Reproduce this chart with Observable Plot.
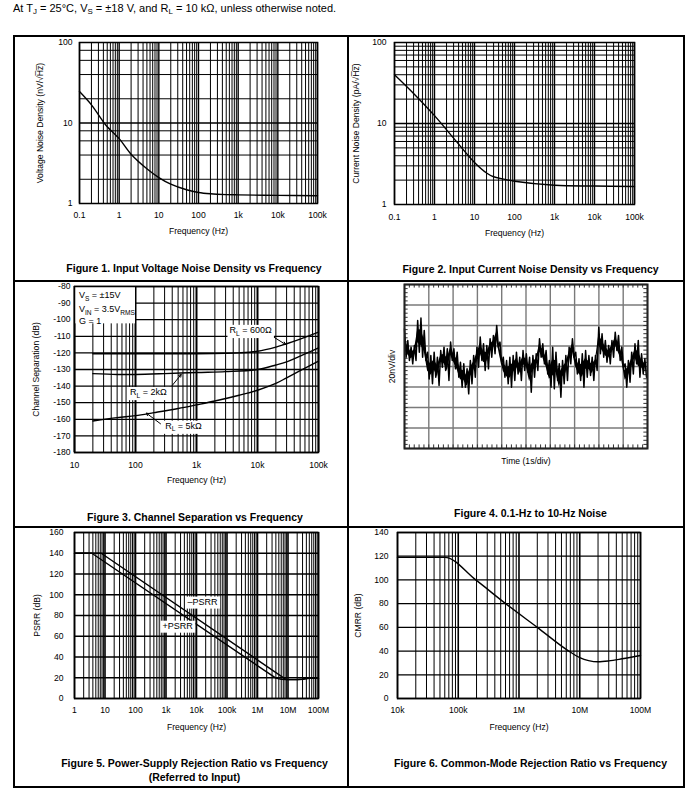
<!DOCTYPE html>
<html><head><meta charset="utf-8">
<script src="https://cdn.jsdelivr.net/npm/d3@7"></script>
<script src="https://cdn.jsdelivr.net/npm/@observablehq/plot@0.6"></script>
<style>
html,body{margin:0;padding:0;background:#fff;}
body{width:692px;height:794px;position:relative;overflow:hidden;font-family:"Liberation Sans",Arial,Helvetica,sans-serif;color:#000;}
.abs{position:absolute;}
.abs svg{display:block;overflow:visible;}
.hl{position:absolute;background:#000;height:1.5px;}
.vl{position:absolute;background:#000;width:1.5px;}
.title{position:absolute;font-weight:bold;font-size:10.5px;white-space:nowrap;transform:translate(-50%,-50%);text-align:center;line-height:14px;}
.header{position:absolute;left:13px;top:2px;font-size:11px;white-space:nowrap;}
.header sub{font-size:0.72em;vertical-align:-0.3em;line-height:0;}
</style></head><body>
<div class="header">At T<sub>J</sub> = 25°C, V<sub>S</sub> = ±18 V, and R<sub>L</sub> = 10 kΩ, unless otherwise noted.</div>

<div class="hl" style="left:13px;top:35px;width:672px"></div>
<div class="hl" style="left:13px;top:280px;width:672px"></div>
<div class="hl" style="left:13px;top:526px;width:672px"></div>
<div class="hl" style="left:13px;top:786px;width:672px"></div>
<div class="vl" style="left:13px;top:35px;height:753px"></div>
<div class="vl" style="left:347px;top:35px;height:753px"></div>
<div class="vl" style="left:683px;top:35px;height:753px"></div>

<div id="p1" class="abs" style="left:14px;top:36px"></div>
<div id="p2" class="abs" style="left:349px;top:36px"></div>
<div id="p3" class="abs" style="left:14px;top:281px"></div>
<div id="p4" class="abs" style="left:349px;top:281px"></div>
<div id="p5" class="abs" style="left:14px;top:527px"></div>
<div id="p6" class="abs" style="left:349px;top:527px"></div>

<div class="title" style="left:194px;top:268px">Figure 1. Input Voltage Noise Density vs Frequency</div>
<div class="title" style="left:530.5px;top:269px">Figure 2. Input Current Noise Density vs Frequency</div>
<div class="title" style="left:195px;top:516.5px">Figure 3. Channel Separation vs Frequency</div>
<div class="title" style="left:530.5px;top:513px">Figure 4. 0.1-Hz to 10-Hz Noise</div>
<div class="title" style="left:194.5px;top:770px">Figure 5. Power-Supply Rejection Ratio vs Frequency<br>(Referred to Input)</div>
<div class="title" style="left:530.5px;top:763px">Figure 6. Common-Mode Rejection Ratio vs Frequency</div>

<script>
// ---------- Figure 1: input voltage noise density ----------
const vnFreq = [0.1, 0.2, 0.4, 0.5, 1, 2, 5, 10, 20, 50, 100, 200, 500, 1000, 10000, 100000];
const vnDensity = [24.6, 16.8, 10.3, 9.0, 6.4, 4.1, 2.7, 2.1, 1.74, 1.48, 1.37, 1.32, 1.29, 1.28, 1.26, 1.25];
const f1XTicks = [0.1, 1, 10, 100, 1000, 10000, 100000];
const f1XLabels = ["0.1", "1", "10", "100", "1k", "10k", "100k"];
const f1YTicks = [1, 10, 100];
const f1YLabels = ["1", "10", "100"];
const f1YGrid = [2, 4, 6, 8, 20, 40, 60, 80];

// ---------- Figure 2: input current noise density ----------
const inFreq = [0.1, 0.3, 1, 3, 10, 20, 30, 50, 100, 1000, 10000, 100000];
const inDensity = [40, 23.5, 12.5, 6.6, 3.3, 2.45, 2.2, 2.07, 1.94, 1.73, 1.69, 1.67];
const f2YGrid = [2, 3, 4, 5, 6, 7, 8, 9, 20, 30, 40, 50, 60, 70, 80, 90];

// ---------- Figure 3: channel separation ----------
const csFreq600 = [20, 100, 1000, 3000, 5000, 10000, 20000, 30000, 50000, 100000];
const cs600 = [-120.5, -120.5, -120.5, -120.3, -120, -119, -116.5, -114.5, -111.7, -107.5];
const csFreq2k = [20, 50, 100, 300, 1000, 3000, 10000, 20000, 30000, 50000, 100000];
const cs2k = [-132.5, -133, -133, -132.5, -131.8, -131.3, -130, -127.3, -125.4, -122, -117];
const csFreq5k = [20, 50, 100, 200, 500, 1000, 2000, 5000, 10000, 20000, 30000, 50000, 100000];
const cs5k = [-161, -159, -157.8, -156, -153.5, -151.3, -149, -145.5, -142.5, -138.4, -135, -130.7, -125];
const f3XTicks = [10, 100, 1000, 10000, 100000];
const f3XLabels = ["10", "100", "1k", "10k", "100k"];
const f3YTicks = [-180, -170, -160, -150, -140, -130, -120, -110, -100, -90, -80];
const f3YLabels = ["-180", "-170", "-160", "-150", "-140", "-130", "-120", "-110", "-100", "-90", "-80"];
const f3Conditions = ["V_{S} = ±15V", "V_{IN} = 3.5V_{RMS}", "G = 1"];
const f3ConditionFreq = [11.8, 11.8, 11.8];
const f3ConditionDb = [-85.4, -93.9, -100.6];
const f3CurveLabels = ["R_{L} = 600Ω", "R_{L} = 2kΩ", "R_{L} = 5kΩ"];
const f3LabelFreq = [7700, 163, 612];
const f3LabelDb = [-106.5, -143.9, -164.2];
const f3LeaderFrom = [[17800, -110.1], [400, -139.6], [257, -162.7]];
const f3LeaderTo = [[28800, -114.9], [561, -133], [151, -156.3]];

// ---------- Figure 4: 0.1-Hz to 10-Hz noise (20 nV/div, 1 s/div) ----------
const noiseStep = 0.1355; // s between readings
const noiseHigh = [36.8,25.4,18.9,20.5,44.9,47.2,35.2,14.0,10.7,14.0,9.1,15.6,18.9,17.3,23.8,17.3,14.0,4.2,2.6,-2.3,5.9,10.7,18.9,28.7,22.1,20.5,27.0,30.3,40.1,23.8,9.1,5.9,9.1,10.7,14.0,9.1,15.6,12.4,9.1,10.7,12.4,27.0,22.1,15.6,5.9,18.9,14.0,2.6,5.9,10.7,18.9,27.0,14.0,7.5,12.4,15.6,10.7,9.1,10.7,38.4,31.9,25.4,20.5,25.4,33.5,30.3,18.9,2.6,5.9,14.0,22.1,25.4,12.4,7.5];
const noiseLow = [9.1,5.9,2.6,5.9,14.0,9.1,5.9,-12.1,-16.9,-10.4,-18.6,-0.7,-3.9,-13.7,5.9,-2.3,-10.4,-20.2,-20.2,-26.7,-16.9,-10.4,-0.7,5.9,-3.9,-2.3,9.1,12.4,18.9,2.6,-10.4,-16.9,-20.2,-13.7,-7.2,-13.7,-3.9,-5.5,-25.1,-10.4,-3.9,9.1,2.6,-7.2,-20.2,-21.8,-13.7,-30.0,-16.9,-13.7,2.6,9.1,-7.2,-13.7,-20.2,-10.4,-8.8,-13.7,-3.9,12.4,9.1,4.2,2.6,9.1,15.6,5.9,-0.7,-20.2,-15.3,-7.2,2.6,-10.4,-7.2,-10.4];
const scopeDivX = [0, 1, 2, 3, 4, 5, 6, 7, 8, 9, 10];
const scopeDivY = [-80, -60, -40, -20, 0, 20, 40, 60, 80];

// ---------- Figure 5: PSRR ----------
const psrrFreqMinus = [1, 7.5, 8.5e6, 1e7, 2e7, 3e7, 4e7, 5e7, 1e8];
const psrrMinus = [140, 140, 18.5, 18.2, 18.2, 18.5, 19.3, 19.5, 19.5];
const psrrFreqPlus = [1, 3.7, 4e6, 6e6, 8.5e6, 1e7, 2e7, 3e7, 4e7, 5e7, 1e8];
const psrrPlus = [140, 140, 19.6, 18.6, 18.2, 18.2, 18.2, 18.5, 19.3, 19.5, 19.5];
const f5XTicks = [1, 10, 100, 1e3, 1e4, 1e5, 1e6, 1e7, 1e8];
const f5XLabels = ["1", "10", "100", "1k", "10k", "100k", "1M", "10M", "100M"];
const f5YTicks = [0, 20, 40, 60, 80, 100, 120, 140, 160];
const f5Labels = ["–PSRR", "+PSRR"];
const f5LabelFreq = [15800, 2400];
const f5LabelDb = [92.8, 69.6];

// ---------- Figure 6: CMRR ----------
const cmrrFreq = [1e4, 6e4, 1.94e5, 6.03e5, 2e6, 6.6e6, 1e7, 1.4e7, 2e7, 3e7, 5e7, 1e8];
const cmrr = [119, 119, 100, 80, 60, 40, 34.5, 32, 31, 31.7, 33.5, 36.3];
const f6XTicks = [1e4, 1e5, 1e6, 1e7, 1e8];
const f6XLabels = ["10k", "100k", "1M", "10M", "100M"];
const f6YTicks = [0, 20, 40, 60, 80, 100, 120, 140];

// ---------- helpers ----------
const NS = "http://www.w3.org/2000/svg";
const FONT = "'Liberation Sans', Arial, Helvetica, sans-serif";
const baseStyle = {fontFamily: FONT, fontSize: "8.6px", color: "black", background: "transparent", overflow: "visible"};
const boxedLabels = new Set([...f3CurveLabels, ...f5Labels]);
function zip(xs, ys) { return xs.map((x, i) => ({x, y: ys[i]})); }
function logMinor(lo, hi) {
  const out = [];
  for (let e = Math.round(Math.log10(lo)); e < Math.round(Math.log10(hi)); e++)
    for (let m = 2; m <= 9; m++) out.push(+(m * Math.pow(10, e)).toPrecision(6));
  return out;
}
function logMajor(lo, hi) {
  const out = [];
  for (let e = Math.round(Math.log10(lo)); e <= Math.round(Math.log10(hi)); e++) out.push(+Math.pow(10, e).toPrecision(6));
  return out;
}
function fmt(ticks, labels) { return d => labels[ticks.findIndex(t => Math.abs(t - d) <= 1e-9 * Math.abs(t))] ?? ""; }
function xAxis(ticks, labels, pad, off) {
  return Plot.axisX(ticks, {anchor: "bottom", tickSize: 0, tickPadding: pad, tickFormat: fmt(ticks, labels),
    label: "Frequency (Hz)", labelAnchor: "center", labelOffset: off, labelArrow: "none"});
}
function yAxis(ticks, labels, pad, label, off) {
  return Plot.axisY(ticks, {anchor: "left", tickSize: 0, tickPadding: pad, tickFormat: fmt(ticks, labels),
    label, labelAnchor: "center", labelOffset: off, labelArrow: "none"});
}
// subscripts written as X_{sub}; labels listed in boxedLabels get a white box behind them
function finishTexts(root) {
  root.querySelectorAll("text").forEach(t => {
    const s = t.textContent;
    if (s.includes("_{")) {
      const parts = s.split(/(_\{[^}]*\})/).filter(p => p);
      while (t.firstChild) t.removeChild(t.firstChild);
      let down = false;
      for (const p of parts) {
        const ts = document.createElementNS(NS, "tspan");
        if (p.startsWith("_{")) {
          ts.textContent = p.slice(2, -1);
          ts.setAttribute("font-size", "6.6");
          ts.setAttribute("dy", "2.2");
          down = true;
        } else {
          ts.textContent = p;
          if (down) { ts.setAttribute("dy", "-2.2"); down = false; }
        }
        t.appendChild(ts);
      }
    }
    if (boxedLabels.has(s)) {
      const b = t.getBBox();
      const r = document.createElementNS(NS, "rect");
      r.setAttribute("x", b.x - 2);
      r.setAttribute("y", b.y - 0.5);
      r.setAttribute("width", b.width + 4);
      r.setAttribute("height", b.height + 2);
      r.setAttribute("fill", "white");
      r.setAttribute("stroke", "none");
      const tr = t.getAttribute("transform");
      if (tr) r.setAttribute("transform", tr);
      t.parentNode.insertBefore(r, t);
    }
  });
}
function place(id, chart) {
  document.getElementById(id).append(chart);
  finishTexts(chart);
}

// ---------- Figure 1 ----------
place("p1", Plot.plot({
  width: 334, height: 207, marginLeft: 65, marginRight: 31, marginTop: 6, marginBottom: 40,
  x: {type: "log", domain: [0.1, 1e5]}, y: {type: "log", domain: [1, 100]},
  style: baseStyle,
  marks: [
    Plot.ruleX(logMinor(0.1, 1e5), {strokeWidth: 1}),
    Plot.ruleX(logMajor(0.1, 1e5), {strokeWidth: 1.4}),
    Plot.ruleY(f1YGrid, {strokeWidth: 1}),
    Plot.ruleY([10], {strokeWidth: 1.4}),
    Plot.line(zip(vnFreq, vnDensity), {x: "x", y: "y", curve: "catmull-rom", strokeWidth: 1.4}),
    Plot.frame({strokeWidth: 1.5}),
    xAxis(f1XTicks, f1XLabels, 8, 30),
    yAxis(f1YTicks, f1YLabels, 7, "Voltage Noise Density (nV/\u221AH\u0305z\u0305)", 43)
  ]
}));

// ---------- Figure 2 ----------
place("p2", Plot.plot({
  width: 335, height: 208, marginLeft: 45, marginRight: 50, marginTop: 6, marginBottom: 40,
  x: {type: "log", domain: [0.1, 1e5]}, y: {type: "log", domain: [1, 100]},
  style: baseStyle,
  marks: [
    Plot.ruleX(logMinor(0.1, 1e5), {strokeWidth: 1}),
    Plot.ruleX(logMajor(0.1, 1e5), {strokeWidth: 1.4}),
    Plot.ruleY(f2YGrid, {strokeWidth: 1}),
    Plot.ruleY([10], {strokeWidth: 1.4}),
    Plot.line(zip(inFreq, inDensity), {x: "x", y: "y", curve: "catmull-rom", strokeWidth: 1.4}),
    Plot.frame({strokeWidth: 1.5}),
    xAxis(f1XTicks, f1XLabels, 9, 31),
    yAxis(f1YTicks, f1YLabels, 8, "Current Noise Density (pA/\u221AH\u0305z\u0305)", 42)
  ]
}));

// ---------- Figure 3 ----------
const condRows = f3Conditions.map((t, i) => ({t, x: f3ConditionFreq[i], y: f3ConditionDb[i]}));
const curveLabelRows = f3CurveLabels.map((t, i) => ({t, x: f3LabelFreq[i], y: f3LabelDb[i]}));
const leaderRows = f3LeaderFrom.map((a, i) => ({x1: a[0], y1: a[1], x2: f3LeaderTo[i][0], y2: f3LeaderTo[i][1]}));
place("p3", Plot.plot({
  width: 334, height: 211, marginLeft: 60, marginRight: 30, marginTop: 5, marginBottom: 40,
  x: {type: "log", domain: [10, 1e5]}, y: {domain: [-180, -80]},
  style: baseStyle,
  marks: [
    Plot.ruleX(logMinor(10, 1e5), {strokeWidth: 1}),
    Plot.ruleX(logMajor(10, 1e5), {strokeWidth: 2}),
    Plot.ruleY(f3YTicks, {strokeWidth: 1.3}),
    Plot.rect([{x1: 10, x2: 100, y1: -102.5, y2: -80}], {x1: "x1", x2: "x2", y1: "y1", y2: "y2", fill: "white"}),
    Plot.line(zip(csFreq600, cs600), {x: "x", y: "y", curve: "catmull-rom", strokeWidth: 1.4}),
    Plot.line(zip(csFreq2k, cs2k), {x: "x", y: "y", curve: "catmull-rom", strokeWidth: 1.4}),
    Plot.line(zip(csFreq5k, cs5k), {x: "x", y: "y", curve: "catmull-rom", strokeWidth: 1.4}),
    Plot.arrow(leaderRows, {x1: "x1", y1: "y1", x2: "x2", y2: "y2", strokeWidth: 1, headLength: 4}),
    Plot.text(curveLabelRows, {x: "x", y: "y", text: "t", fontSize: 9, fill: "black"}),
    Plot.text(condRows, {x: "x", y: "y", text: "t", textAnchor: "start", fontSize: 9, fill: "black"}),
    Plot.frame({strokeWidth: 1.5}),
    xAxis(f3XTicks, f3XLabels, 9, 30),
    yAxis(f3YTicks, f3YLabels, 4, "Channel Separation (dB)", 42)
  ]
}));

// ---------- Figure 4 ----------
const noiseBand = noiseHigh.map((v, i) => ({t: i * noiseStep, hi: v, lo: noiseLow[i]}));
const noiseRows = [];
noiseBand.forEach(d => {
  noiseRows.push({t: d.t, v: d.hi});
  noiseRows.push({t: d.t + noiseStep / 2, v: d.lo});
});
const minorX = d3.range(0, 10.001, 0.2).map(d => +d.toFixed(2));
const minorY = d3.range(-80, 80.001, 4);
place("p4", Plot.plot({
  width: 335, height: 197, marginLeft: 55, marginRight: 37, marginTop: 3, marginBottom: 30,
  x: {domain: [0, 10]}, y: {domain: [-80, 80]},
  style: baseStyle,
  marks: [
    Plot.ruleX(scopeDivX, {stroke: "#7a7a7a", strokeWidth: 1.4}),
    Plot.ruleY(scopeDivY, {stroke: "#7a7a7a", strokeWidth: 1.4}),
    Plot.ruleX(minorX, {y1: 80, y2: 76.5, stroke: "#333", strokeWidth: 1}),
    Plot.ruleX(minorX, {y1: -80, y2: -76.5, stroke: "#333", strokeWidth: 1}),
    Plot.ruleY(minorY, {x1: 0, x2: 0.15, stroke: "#333", strokeWidth: 1}),
    Plot.ruleY(minorY, {x1: 10, x2: 9.85, stroke: "#333", strokeWidth: 1}),
    Plot.areaY(noiseBand, {x: "t", y1: d => 0.7 * d.lo + 0.3 * d.hi, y2: d => 0.7 * d.hi + 0.3 * d.lo, fill: "black"}),
    Plot.line(noiseRows, {x: "t", y: "v", strokeWidth: 1.5, stroke: "black"}),
    Plot.frame({stroke: "#222", strokeWidth: 2}),
    Plot.axisX([], {anchor: "bottom", tickSize: 0, label: "Time (1s/div)", labelAnchor: "center", labelOffset: 15, labelArrow: "none"}),
    Plot.axisY([], {anchor: "left", tickSize: 0, label: "20nV/div", labelAnchor: "center", labelOffset: 16, labelArrow: "none"})
  ]
}));

// ---------- Figure 5 ----------
const psrrLabelRows = f5Labels.map((t, i) => ({t, x: f5LabelFreq[i], y: f5LabelDb[i]}));
place("p5", Plot.plot({
  width: 334, height: 211, marginLeft: 60, marginRight: 30, marginTop: 5, marginBottom: 40,
  x: {type: "log", domain: [1, 1e8]}, y: {domain: [0, 160]},
  style: baseStyle,
  marks: [
    Plot.ruleX(logMinor(1, 1e8), {strokeWidth: 1}),
    Plot.ruleX(logMajor(1, 1e8), {strokeWidth: 1.6}),
    Plot.ruleY(f5YTicks, {strokeWidth: 1.3}),
    Plot.line(zip(psrrFreqMinus, psrrMinus), {x: "x", y: "y", strokeWidth: 1.4}),
    Plot.line(zip(psrrFreqPlus, psrrPlus), {x: "x", y: "y", strokeWidth: 1.4}),
    Plot.text(psrrLabelRows, {x: "x", y: "y", text: "t", fontSize: 9, fill: "black"}),
    Plot.frame({strokeWidth: 1.5}),
    xAxis(f5XTicks, f5XLabels, 8, 31),
    yAxis(f5YTicks, f5YTicks.map(String), 11, "PSRR (dB)", 41)
  ]
}));

// ---------- Figure 6 ----------
place("p6", Plot.plot({
  width: 335, height: 211, marginLeft: 48, marginRight: 44, marginTop: 5, marginBottom: 40,
  x: {type: "log", domain: [1e4, 1e8]}, y: {domain: [0, 140]},
  style: baseStyle,
  marks: [
    Plot.ruleX(logMinor(1e4, 1e8), {strokeWidth: 1}),
    Plot.ruleX(logMajor(1e4, 1e8), {strokeWidth: 1.6}),
    Plot.ruleY(f6YTicks, {strokeWidth: 1.3}),
    Plot.line(zip(cmrrFreq, cmrr), {x: "x", y: "y", curve: "monotone-x", strokeWidth: 1.4}),
    Plot.frame({strokeWidth: 1.5}),
    xAxis(f6XTicks, f6XLabels, 8, 31),
    yAxis(f6YTicks, f6YTicks.map(String), 9, "CMRR (dB)", 43)
  ]
}));
</script>
</body></html>
